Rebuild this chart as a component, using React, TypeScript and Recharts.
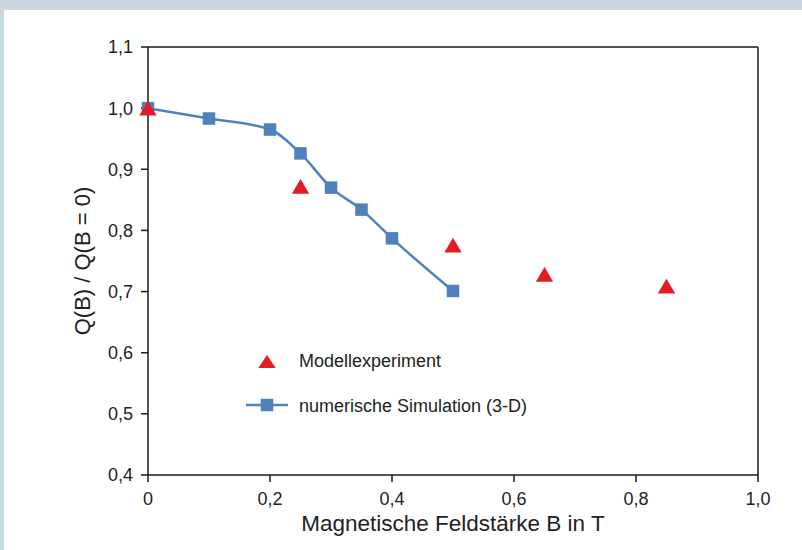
import React from 'react';
import { ComposedChart, Line, Scatter, XAxis, YAxis, ReferenceLine } from 'recharts';

// Numerische Simulation (3-D)
const simB = [0, 0.1, 0.2, 0.25, 0.3, 0.35, 0.4, 0.5];
const simQ = [1.0, 0.983, 0.965, 0.926, 0.870, 0.834, 0.787, 0.701];
// Modellexperiment
const expB = [0, 0.25, 0.5, 0.65, 0.85];
const expQ = [1.0, 0.872, 0.776, 0.728, 0.709];

const xTicks = [0, 0.2, 0.4, 0.6, 0.8, 1.0];
const yTicks = [0.4, 0.5, 0.6, 0.7, 0.8, 0.9, 1.0, 1.1];
const seriesNames = ['Modellexperiment', 'numerische Simulation (3-D)'];
const xTitle = 'Magnetische Feldstärke B in T';
const yTitle = 'Q(B) / Q(B = 0)';

const simData = simB.map((b, i) => ({ b, q: simQ[i] }));
const expData = expB.map((b, i) => ({ b, q: expQ[i] }));

const BLUE = '#4f81bd';
const RED = '#e31b23';
const AXIS = '#1a1a1a';
const FONT = '"Liberation Sans", Arial, Helvetica, sans-serif';

const fmt = (v: number) => (v === 0 ? '0' : v.toFixed(1).replace('.', ','));

const Square = (props: any) => {
  const { cx, cy } = props;
  if (cx == null || cy == null) return null;
  return <rect key={`sq-${cx}-${cy}`} x={cx - 6.25} y={cy - 6.25} width={12.5} height={12.5} fill={BLUE} />;
};

const Triangle = (props: any) => {
  const { cx, cy } = props;
  if (cx == null || cy == null) return null;
  const w = 8.7;
  const h = 7.4;
  return <path d={`M${cx},${cy - h} L${cx + w},${cy + h} L${cx - w},${cy + h} Z`} fill={RED} />;
};

const XLabel = (props: any) => {
  const vb = props.viewBox || {};
  return (
    <text x={vb.x + vb.width / 2} y={vb.y + 56} textAnchor="middle" fontSize={22.5} fill="#222" fontFamily={FONT}>
      {xTitle}
    </text>
  );
};

export default function App() {
  return (
    <div style={{ position: 'absolute', left: 0, top: 0, width: 802, height: 550, background: '#c9d7df', overflow: 'hidden' }}>
      <div style={{ position: 'absolute', left: 4, top: 10, width: 798, height: 540, background: '#ffffff' }}>
        <ComposedChart
          width={798}
          height={540}
          margin={{ top: 37, right: 44, bottom: 0, left: 12 }}
          style={{ fontFamily: FONT }}
        >
          <XAxis
            type="number"
            dataKey="b"
            domain={[0, 1]}
            ticks={xTicks}
            tickFormatter={fmt}
            height={75}
            tickSize={7}
            tickMargin={10}
            axisLine={{ stroke: AXIS, strokeWidth: 1.5 }}
            tickLine={{ stroke: AXIS, strokeWidth: 1.5 }}
            tick={{ fill: '#222', fontSize: 18 }}
            label={XLabel}
          />
          <YAxis
            type="number"
            dataKey="q"
            domain={[0.4, 1.1]}
            ticks={yTicks}
            tickFormatter={fmt}
            width={132}
            tickSize={7}
            tickMargin={8}
            axisLine={{ stroke: AXIS, strokeWidth: 1.5 }}
            tickLine={{ stroke: AXIS, strokeWidth: 1.5 }}
            tick={{ fill: '#222', fontSize: 18 }}
            label={{ value: yTitle, angle: -90, position: 'center', fontSize: 22, fill: '#222' }}
          />
          <ReferenceLine y={1.1} stroke={AXIS} strokeWidth={1.5} />
          <ReferenceLine x={1.0} stroke={AXIS} strokeWidth={1.5} />
          <Line
            data={simData}
            dataKey="q"
            name={seriesNames[1]}
            type="monotone"
            stroke={BLUE}
            strokeWidth={2.5}
            dot={<Square />}
            activeDot={false}
            isAnimationActive={false}
          />
          <Scatter
            data={expData}
            dataKey="q"
            name={seriesNames[0]}
            shape={<Triangle />}
            isAnimationActive={false}
          />
        </ComposedChart>
        <svg
          width={330}
          height={80}
          style={{ position: 'absolute', left: 240, top: 339, fontFamily: FONT }}
        >
          <path d="M23,6 L31.7,19 L14.3,19 Z" fill={RED} />
          <text x={55} y={18} fontSize={18} fill="#222">{seriesNames[0]}</text>
          <line x1={2} y1={56} x2={44} y2={56} stroke={BLUE} strokeWidth={2.5} />
          <rect x={16.75} y={49.75} width={12.5} height={12.5} fill={BLUE} />
          <text x={55} y={63} fontSize={18} fill="#222">{seriesNames[1]}</text>
        </svg>
      </div>
    </div>
  );
}
